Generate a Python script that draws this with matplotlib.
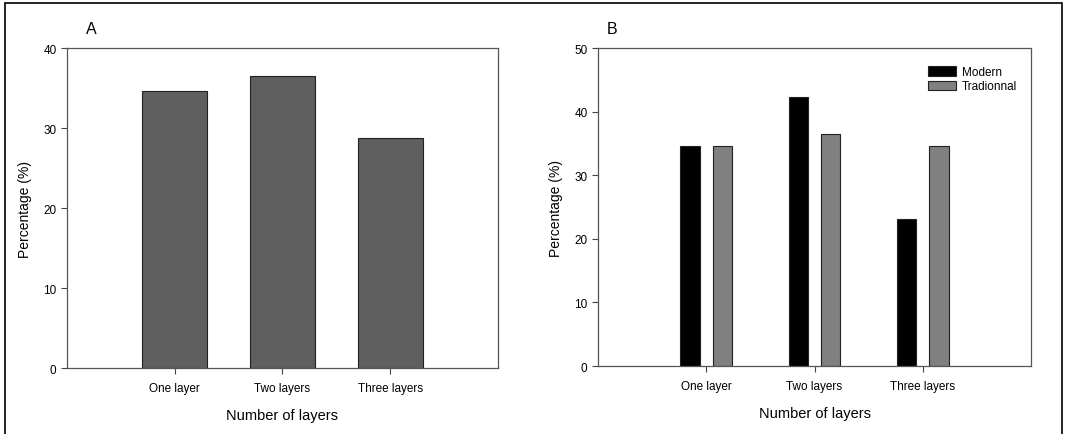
import numpy as np
import matplotlib
matplotlib.use('Agg')
import matplotlib.pyplot as plt
from matplotlib.patches import Rectangle

plt.rcParams['font.family'] = ['Liberation Sans', 'DejaVu Sans']

categories = ['One layer', 'Two layers', 'Three layers']
overall_pct = [34.6, 36.5, 28.8]
modern_pct = [34.6, 42.3, 23.1]
traditional_pct = [34.6, 36.5, 34.6]

fig = plt.figure(figsize=(10.65, 4.35), dpi=100)

# outer frame round the two panels
fig.patches.append(Rectangle((5 / 1065, -0.02), 1057 / 1065, 1.02 - 4 / 435,
                             transform=fig.transFigure, fill=False,
                             edgecolor='black', linewidth=1.2))

axA = fig.add_axes([0.0629, 0.1517, 0.4047, 0.7356])
axB = fig.add_axes([0.5615, 0.1563, 0.4066, 0.7303])

x = np.arange(len(categories))

axA.bar(x, overall_pct, width=0.6, color='#5f5f5f', edgecolor='#222222', linewidth=0.8)
axA.set_ylim(0, 40)
axA.set_yticks([0, 10, 20, 30, 40])

off = 0.148
axB.bar(x - off, modern_pct, width=0.18, color='black', edgecolor='#222222',
        linewidth=0.8, label='Modern')
axB.bar(x + off, traditional_pct, width=0.18, color='#808080', edgecolor='#222222',
        linewidth=0.8, label='Tradionnal')
axB.set_ylim(0, 50)
axB.set_yticks([0, 10, 20, 30, 40, 50])
axB.legend(loc='upper right', bbox_to_anchor=(0.987, 0.97), frameon=False,
           fontsize=8.5, handlelength=2.4, handleheight=0.9, handletextpad=0.5,
           labelspacing=0.2, borderaxespad=0.3)

for ax, letter, lx in ((axA, 'A', 0.044), (axB, 'B', 0.021)):
    ax.set_xlim(-1, 3)
    ax.set_xticks(x)
    ax.set_xticklabels(categories, fontsize=8.5)
    ax.tick_params(axis='y', labelsize=8.5, length=4, width=0.8, color='#444444')
    ax.tick_params(axis='x', length=4, width=0.8, color='#444444', pad=6)
    ax.tick_params(top=False, right=False)
    for s in ax.spines.values():
        s.set_color('#555555')
        s.set_linewidth(0.9)
    ax.set_ylabel('Percentage (%)', fontsize=10, labelpad=8)
    ax.set_xlabel('Number of layers', fontsize=10.5, labelpad=10)
    ax.text(lx, 1.038, letter, transform=ax.transAxes, fontsize=11.5,
            ha='left', va='bottom')

fig.savefig('out.png', dpi=100)
